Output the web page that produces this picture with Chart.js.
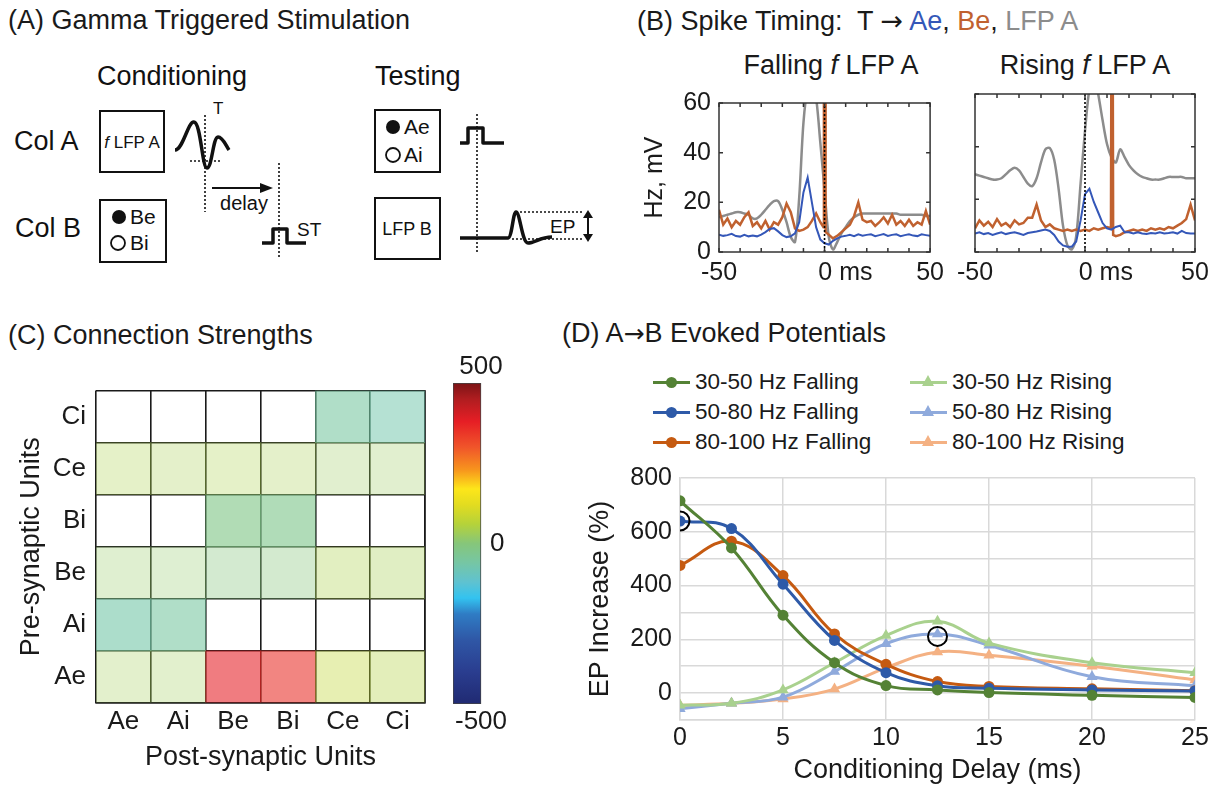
<!DOCTYPE html>
<html>
<head>
<meta charset="utf-8">
<script src="https://cdn.jsdelivr.net/npm/chart.js@4.4.1/dist/chart.umd.min.js"></script>
<style>
  body { margin: 0; background: #fff; }
  #fig { position: relative; width: 1221px; height: 785px; overflow: hidden;
         font-family: 'Liberation Sans', Arial, sans-serif; color: #1a1a1a; }
  .t { position: absolute; white-space: nowrap; font-size: 27px; line-height: 1; }
  .mid { transform: translateX(-50%); }
  .arr { font-family: 'DejaVu Sans', sans-serif; }
  canvas { position: absolute; }
  #dLegend { position: absolute; left: 653px; top: 367px; display: grid; grid-auto-flow: column;
             grid-template-rows: repeat(3, 30px); grid-template-columns: 257px 300px; }
  .li { display: flex; align-items: center; font-size: 22.5px; white-space: nowrap; }
  .key { position: relative; width: 37px; height: 30px; margin-right: 5px; }
  .key .ln { position: absolute; left: 0; right: 0; top: 13.5px; height: 3px; }
  .key .dot { position: absolute; left: 13px; top: 9.5px; width: 11px; height: 11px; border-radius: 50%; }
  .key .tri { position: absolute; left: 12px; top: 8px; width: 0; height: 0;
              border-left: 6.5px solid transparent; border-right: 6.5px solid transparent; border-bottom: 11px solid; }
</style>
</head>
<body>
<div id="fig">
  <!-- (A) schematic -->
  <div class="t" style="left:8px;top:7px">(A) Gamma Triggered Stimulation</div>
  <svg width="630" height="300" style="position:absolute;left:0;top:0" font-family="'Liberation Sans', Arial, sans-serif" fill="#111">
    <text x="97" y="85" font-size="27">Conditioning</text>
    <text x="375" y="85" font-size="27">Testing</text>
    <text x="14" y="150" font-size="27">Col A</text>
    <text x="15" y="237" font-size="27">Col B</text>
    <g fill="none" stroke="#111" stroke-width="2">
      <rect x="100" y="111" width="64" height="61"/>
      <rect x="100" y="200" width="66" height="62"/>
      <rect x="375" y="110" width="65" height="62"/>
      <rect x="375" y="198" width="65" height="61"/>
    </g>
    <text x="132" y="148" font-size="17" text-anchor="middle"><tspan font-style="italic">f</tspan> LFP A</text>
    <g fill="none" stroke="#111" stroke-width="3.5" stroke-linejoin="round">
      <path d="M175,150 C183,150 188,121 194,122 C201,123 202,168 207,168 C212,168 213,137 218,137 C223,137 226,146 229,150"/>
      <path d="M262,243 H273 V229 H287 V243 H306"/>
      <path d="M460,143 H468 V128 H483 V143 H504"/>
      <path d="M460,238 H508 C512,238 513,212 516,212 C520,212 522,243 528,243 C535,243 540,237 552,237"/>
    </g>
    <g fill="none" stroke="#111" stroke-width="1.6" stroke-dasharray="2,2">
      <path d="M205,115 V212"/>
      <path d="M190,161 H221"/>
      <path d="M279,163 V258"/>
      <path d="M477,114 V253"/>
      <path d="M516,212 H582"/>
      <path d="M512,239 H582"/>
    </g>
    <text x="213" y="114" font-size="17">T</text>
    <path d="M212,188 H262" stroke="#111" stroke-width="2"/>
    <polygon points="273,188 260,183 260,193"/>
    <text x="244" y="210" font-size="20" text-anchor="middle">delay</text>
    <text x="297" y="236" font-size="19">ST</text>
    <circle cx="119" cy="217" r="7"/>
    <circle cx="118" cy="243" r="7" fill="none" stroke="#111" stroke-width="1.8"/>
    <text x="130" y="224" font-size="21">Be</text>
    <text x="130" y="250" font-size="21">Bi</text>
    <circle cx="393" cy="127" r="7"/>
    <circle cx="393" cy="155" r="7" fill="none" stroke="#111" stroke-width="1.8"/>
    <text x="404" y="134" font-size="21">Ae</text>
    <text x="404" y="162" font-size="21">Ai</text>
    <text x="407" y="235" font-size="18" text-anchor="middle">LFP B</text>
    <text x="550" y="233" font-size="19">EP</text>
    <path d="M588,216 V236" stroke="#111" stroke-width="2"/>
    <polygon points="588,210 583,218 593,218"/>
    <polygon points="588,242 583,234 593,234"/>
  </svg>

  <!-- (B) -->
  <div class="t" style="left:637px;top:7px">(B) Spike Timing:&nbsp; T <span class="arr">→</span> <span style="color:#3457b8">Ae</span>, <span style="color:#c0612f">Be</span>, <span style="color:#8c8c8c">LFP A</span></div>
  <div class="t mid" style="left:831px;top:52px">Falling <i>f</i> LFP A</div>
  <div class="t mid" style="left:1085px;top:52px">Rising <i>f</i> LFP A</div>
  <canvas id="bFall" width="310" height="210" style="left:640px;top:80px"></canvas>
  <canvas id="bRise" width="271" height="210" style="left:950px;top:80px"></canvas>

  <!-- (C) -->
  <div class="t" style="left:8px;top:322px">(C) Connection Strengths</div>
  <canvas id="matrix" width="420" height="420" style="left:15px;top:365px"></canvas>
  <canvas id="cbar" width="75" height="400" style="left:440px;top:345px"></canvas>

  <!-- (D) -->
  <div class="t" style="left:562px;top:320px">(D) A<span class="arr" style="font-size:25px">→</span>B Evoked Potentials</div>
  <div id="dLegend"></div>
  <canvas id="dChart" width="637" height="330" style="left:584px;top:455px"></canvas>
</div>

<script>
// ---- (B) spike timing data, sampled every 2 ms ----
const bTime = [-50,-48,-46,-44,-42,-40,-38,-36,-34,-32,-30,-28,-26,-24,-22,-20,-18,-16,-14,-12,
  -10,-8,-6,-4,-2,0,2,4,6,8,10,12,14,16,18,20,22,24,26,28,30,32,34,36,38,40,42,44,46,48,50];

const lfpFalling = [14,14.5,15,15.5,16,16,15.5,15,13.5,13.5, 15,17,19,20.5,20.5,17,12,6,4,22,
  52,66,68,62,44,25,6,1,4,7.5, 10,12.5,14,15,15.5,15.5,15.5,15.5,15.5,15.5,
  15.5,15.5,15.5,15,15,15,15,15,15,14.5, 14.5];
const aeFalling = [7,6.5,6.8,7.3,6.4,6.2,6.9,6.3,6.6,6.3, 7,8,9.3,9.6,8.3,6.8,6,6.3,7.5,12,
  24,30,20,10,5,3.5,3,4.5,5.5,6.2, 6.5,6.9,6.4,7.1,6.6,6.9,7.1,6.4,6.8,7.2,
  6.5,6.9,7.1,6.4,6.8,7.1,6.6,6.4,7.1,6.8, 6.5];
const beFallingT = [-50,-48,-46,-44,-42,-40,-38,-36,-34,-32,-30,-28,-26,-24,-22,-20,-18,-16,-14,-12,
  -10,-8,-6,-4,-2, -0.5,-0.3,0.3,0.5, 2,4,6,8,10,12,14,16,18,20,22,24,26,28,30,32,34,36,38,40,42,44,46,48,50];
const beFalling = [17,11,13.5,10,12.5,11,14,16,10.5,12, 9.5,12.5,9,12,11,14,19.5,16,9.5,8.5,
  9,10,12.5,15.5,12, 10,80,80,8,
  7,5.5,6.5,8,9.5,11,14.5,20,13,12, 12.5,10.5,12,14,11.5,15,11,12.5,10.5,13, 10.5,12,11,16.5,11];

const lfpRising = [29.5,29,28.5,28,27.5,27.5,28,29.5,31,32, 31,28.5,26,25,28,34,39,39.5,35,24,
  10,2.5,1,6,26,46,62,68,60,50, 41,36,34,39,36,33,31,29.5,28.5,28,
  27.5,27.5,27.5,28,28.5,28.5,28.5,28.5,28,28, 28];
const aeRising = [7,7.5,6.8,7.2,6.5,7,7.5,6.8,7.2,7.5, 7,6.5,7.2,7.5,7.8,8.2,8.5,8,6.5,4,
  2.5,2,2,4,12,22,24,19,15,11, 9,8.5,9.5,10,7.5,7.5,7,7.5,7,6.8,
  7.2,7,7.5,7,7.2,7.5,7,8,7.2,7, 7];
const beRisingT = [-50,-48,-46,-44,-42,-40,-38,-36,-34,-32,-30,-28,-26,-24,-22,-20,-18,-16,-14,-12,
  -10,-8,-6,-4,-2,0,2,4,6,8,10, 11.8,12,12.6,12.8,
  14,16,18,20,22,24,26,28,30,32,34,36,38,40,42,44,46,48,50];
const beRising = [9,12,10,11.5,9.5,12.5,10,11,9.5,12, 10.5,11,13,13,18,12,9.5,10.5,9,8.5,
  8,8.5,8,8.5,8,8.5,8,9,8.5,9,9.5, 9,80,80,6.5,
  6,6.5,7.5,8,8.5,8,8.5,8,9,8.5,9,8.5,9.5,9,10,11,12.5,18,12];

const triggerT = [0, 0];
const triggerY = [0, 60];
const bXTicks = [-50, 0, 50];
const bXTickLabels = ['-50', '0 ms', '50'];
const bYTicks = [0, 20, 40, 60];
const bTickMarksX = [-50,-40,-30,-20,-10,0,10,20,30,40,50];

// ---- (C) connection strengths: rows = pre-synaptic (bottom to top), cols = post-synaptic ----
const units = ['Ae', 'Ai', 'Be', 'Bi', 'Ce', 'Ci'];
const meanWeight = [
  [35, 30, 380, 360, 75, 55],          // Ae
  [-65, -55, null, null, null, null],  // Ai
  [20, 15, -5, 0, 45, 40],             // Be
  [null, null, -20, -25, null, null],  // Bi
  [45, 40, 45, 40, 25, 25],            // Ce
  [null, null, null, null, -55, -70]   // Ci
];
const dotDensity = [
  [0.3, 0.3, 0.58, 0.58, 0.38, 0.36],
  [0.6, 0.58, 0, 0, 0, 0],
  [0.3, 0.3, 0.36, 0.36, 0.34, 0.34],
  [0, 0, 0.62, 0.62, 0, 0],
  [0.3, 0.3, 0.3, 0.3, 0.3, 0.3],
  [0, 0, 0, 0, 0.58, 0.52]
];
const cbValues = [-500,-400,-300,-220,-170,-120,-60,0,60,120,170,230,300,380,450,500];
const cbColors = ['#202a72','#2a3d8f','#2f57a6','#2f7cc4','#33c3f0','#5fc2d0','#76c6a4','#86c67a',
  '#b5d23a','#e2dc20','#fde61a','#f7941d','#f0552a','#e61e25','#b01d20','#7b1416'];
const cbTickLabels = ['-500', '0', '500'];

// ---- (D) evoked potentials ----
const dDelay = [0, 2.5, 5, 7.5, 10, 12.5, 15, 20, 25];
const fall3050 = [715, 540, 290, 113, 28, 12, 2, -8, -16];
const fall5080 = [640, 612, 405, 196, 76, 27, 18, 12, 8];
const fall80100 = [475, 565, 437, 220, 107, 43, 25, 16, 9];
const rise3050 = [-45, -38, 12, 113, 214, 267, 186, 113, 76];
const rise5080 = [-58, -38, -15, 80, 184, 220, 178, 61, 27];
const rise80100 = [-45, -38, -22, 15, 94, 153, 141, 100, 49];
const highlightX = [0, 12.5];
const highlightY = [640, 211];
const dXTicks = [0, 5, 10, 15, 20, 25];
const dYLabels = [0, 200, 400, 600, 800];

Chart.defaults.font.family = "'Liberation Sans', Arial, sans-serif";
Chart.defaults.font.size = 25;
Chart.defaults.color = '#1a1a1a';
Chart.defaults.animation = false;
Chart.defaults.responsive = false;
Chart.defaults.plugins.legend.display = false;
Chart.defaults.plugins.tooltip.enabled = false;

const pairs = (xs, ys) => xs.map((x, i) => ({ x: x, y: ys[i] }));
const fixW = w => s => { s.width = w; };
const fixH = h => s => { s.height = h; };

// box around the plot with small inward ticks (matlab look)
const framePlugin = {
  id: 'frame',
  afterDatasetsDraw(chart, args, o) {
    const { ctx, chartArea: a, scales: { x, y } } = chart;
    ctx.save();
    ctx.strokeStyle = o.color;
    ctx.lineWidth = o.width;
    ctx.strokeRect(a.left, a.top, a.right - a.left, a.bottom - a.top);
    ctx.beginPath();
    o.xTicks.forEach(v => {
      const p = x.getPixelForValue(v);
      ctx.moveTo(p, a.bottom); ctx.lineTo(p, a.bottom - o.len);
      ctx.moveTo(p, a.top); ctx.lineTo(p, a.top + o.len);
    });
    o.yTicks.forEach(v => {
      const p = y.getPixelForValue(v);
      ctx.moveTo(a.left, p); ctx.lineTo(a.left + o.len, p);
      ctx.moveTo(a.right, p); ctx.lineTo(a.right - o.len, p);
    });
    ctx.stroke();
    ctx.restore();
  }
};

function spikeChart(id, lfp, ae, beT, be, showY) {
  return new Chart(document.getElementById(id), {
    type: 'line',
    data: {
      datasets: [
        { data: pairs(triggerT, triggerY), borderColor: '#000', borderWidth: 1.6, borderDash: [2, 2], pointRadius: 0 },
        { data: pairs(bTime, ae), borderColor: '#3457b8', borderWidth: 2, pointRadius: 0 },
        { data: pairs(beT, be), borderColor: '#c0612f', borderWidth: 2.5, pointRadius: 0 },
        { data: pairs(bTime, lfp), borderColor: '#8c8c8c', borderWidth: 2.5, pointRadius: 0, tension: 0.3 }
      ]
    },
    options: {
      layout: { padding: showY ? { top: 14, right: 7 } : { top: 14, left: 25, right: 26 } },
      scales: {
        x: {
          type: 'linear', min: -50, max: 50,
          grid: { display: false, drawTicks: false }, border: { display: false },
          afterBuildTicks: s => { s.ticks = bXTicks.map(v => ({ value: v })); },
          ticks: { padding: 6, maxRotation: 0, autoSkip: false,
                   callback: (v, i) => i === 1 ? '      ' + bXTickLabels[i] : bXTickLabels[i] },
          afterFit: fixH(38)
        },
        y: {
          display: showY, min: 0, max: 60,
          grid: { display: false, drawTicks: false }, border: { display: false },
          afterBuildTicks: s => { s.ticks = bYTicks.map(v => ({ value: v })); },
          ticks: { padding: 8, autoSkip: false },
          title: { display: true, text: 'Hz, mV', padding: 0 },
          afterFit: fixW(showY ? 79 : 0)
        }
      },
      plugins: { frame: { color: '#333', width: 1.5, len: 4, xTicks: bTickMarksX, yTicks: bYTicks } }
    },
    plugins: [framePlugin]
  });
}
spikeChart('bFall', lfpFalling, aeFalling, beFallingT, beFalling, true);
spikeChart('bRise', lfpRising, aeRising, beRisingT, beRising, false);

// colour map for the weights
function hexRgb(h) {
  return [parseInt(h.slice(1, 3), 16), parseInt(h.slice(3, 5), 16), parseInt(h.slice(5, 7), 16)];
}
function cmap(v, alpha) {
  let i = 0;
  while (i < cbValues.length - 2 && v > cbValues[i + 1]) i++;
  const f = Math.min(1, Math.max(0, (v - cbValues[i]) / (cbValues[i + 1] - cbValues[i])));
  const a = hexRgb(cbColors[i]), b = hexRgb(cbColors[i + 1]);
  const c = a.map((q, k) => Math.round(q + (b[k] - q) * f));
  return 'rgba(' + c.join(',') + ',' + alpha + ')';
}

new Chart(document.getElementById('matrix'), {
  type: 'bar',
  data: {
    labels: units,
    datasets: units.map((pre, r) => ({
      label: pre,
      data: meanWeight[r].map(w => w === null ? null : [r, r + 1]),
      backgroundColor: meanWeight[r].map((w, c) => w === null ? 'rgba(0,0,0,0)' : cmap(w, dotDensity[r][c])),
      borderWidth: 0, barPercentage: 1, categoryPercentage: 1, grouped: false
    }))
  },
  options: {
    layout: { padding: { top: 16, right: 10 } },
    scales: {
      x: {
        grid: { color: '#1a1a1a', lineWidth: 1.6, offset: true, drawTicks: false },
        border: { color: '#1a1a1a', width: 1.6 },
        ticks: { padding: 3, font: { size: 26 } },
        title: { display: true, text: 'Post-synaptic Units', font: { size: 27 }, padding: { top: 0, bottom: 11 } },
        afterFit: fixH(82)
      },
      y: {
        position: 'right', min: 0, max: 6,
        grid: { color: '#1a1a1a', lineWidth: 1.6, drawTicks: false },
        border: { color: '#1a1a1a', width: 1.6 },
        ticks: { display: false, stepSize: 1 },
        afterFit: fixW(0)
      },
      yLab: {
        type: 'category', position: 'left', labels: units.slice().reverse(), offset: true,
        grid: { display: false, drawTicks: false }, border: { display: false },
        ticks: { padding: 10, font: { size: 26 } },
        title: { display: true, text: 'Pre-synaptic Units', font: { size: 27 }, padding: 0 },
        afterFit: fixW(81)
      }
    }
  }
});

// label for the middle of the colour bar, placed at the y-scale position of its value
const cbZeroLabel = {
  id: 'cbZero',
  afterDraw(chart) {
    const { ctx, chartArea: a, scales: { y } } = chart;
    ctx.save();
    ctx.font = "26px 'Liberation Sans', Arial, sans-serif";
    ctx.fillStyle = '#1a1a1a';
    ctx.textAlign = 'left';
    ctx.textBaseline = 'middle';
    ctx.fillText(cbTickLabels[1], a.left + 37, y.getPixelForValue(Number(cbTickLabels[1])));
    ctx.restore();
  }
};

new Chart(document.getElementById('cbar'), {
  type: 'bar',
  data: {
    labels: ['', ''],
    datasets: [{
      data: [[cbValues[0], cbValues[cbValues.length - 1]], null],
      backgroundColor: c => {
        const ch = c.chart, ys = ch.scales.y;
        if (!ch.chartArea || !ys) return cbColors[7];
        const lo = cbValues[0], hi = cbValues[cbValues.length - 1];
        const g = ch.ctx.createLinearGradient(0, ys.getPixelForValue(lo), 0, ys.getPixelForValue(hi));
        cbValues.forEach((v, i) => g.addColorStop((v - lo) / (hi - lo), cbColors[i]));
        return g;
      },
      borderColor: '#444', borderWidth: 1, borderSkipped: false,
      barPercentage: 1, categoryPercentage: 1
    }]
  },
  options: {
    layout: { padding: { left: 13, right: 6 } },
    scales: {
      x: {
        grid: { display: false, drawTicks: false }, border: { display: false }, ticks: { display: false },
        title: { display: true, text: cbTickLabels[0], font: { size: 26 }, padding: { top: 0, bottom: 8 } },
        afterFit: fixH(41)
      },
      xTop: {
        type: 'category', position: 'top', labels: ['', ''],
        grid: { display: false, drawTicks: false }, border: { display: false }, ticks: { display: false },
        title: { display: true, text: cbTickLabels[2], font: { size: 26 }, padding: { top: 6, bottom: 0 } },
        afterFit: fixH(38)
      },
      y: {
        display: false, min: -500, max: 500
      }
    }
  },
  plugins: [cbZeroLabel]
});

// ---- (D) ----
const dNames = ['30-50 Hz Falling', '50-80 Hz Falling', '80-100 Hz Falling',
                '30-50 Hz Rising', '50-80 Hz Rising', '80-100 Hz Rising'];
const dValues = [fall3050, fall5080, fall80100, rise3050, rise5080, rise80100];
const dColors = ['#548235', '#2e5aa8', '#c55a11', '#a9d18e', '#8faadc', '#f4b183'];
const dMarkers = ['circle', 'circle', 'circle', 'triangle', 'triangle', 'triangle'];

const dSets = dNames.map((name, i) => ({
  label: name,
  data: pairs(dDelay, dValues[i]),
  borderColor: dColors[i], backgroundColor: dColors[i],
  borderWidth: 3, tension: 0.4,
  pointStyle: dMarkers[i], pointRadius: dMarkers[i] === 'circle' ? 5.5 : 6.5,
  pointBorderWidth: 0
}));
dSets.unshift({
  label: 'highlight',
  data: pairs(highlightX, highlightY),
  showLine: false, pointRadius: 9.5, pointBorderWidth: 2,
  pointBorderColor: '#000', pointBackgroundColor: 'rgba(0,0,0,0)'
});

new Chart(document.getElementById('dChart'), {
  type: 'line',
  data: { datasets: dSets },
  options: {
    layout: { padding: { top: 21, right: 26 } },
    scales: {
      x: {
        type: 'linear', min: 0, max: 25,
        afterBuildTicks: s => { s.ticks = dXTicks.map(v => ({ value: v })); },
        grid: { color: '#d9d9d9', lineWidth: 1.5, drawTicks: false },
        border: { color: '#d9d9d9', width: 1.5 },
        ticks: { padding: 4, autoSkip: false, font: { size: 25, lineHeight: 1.1 } },
        title: { display: true, text: 'Conditioning Delay (ms)', font: { size: 27, lineHeight: 1.1 }, padding: { top: 0, bottom: 0 } },
        afterFit: fixH(65)
      },
      y: {
        min: -100, max: 800,
        grid: { color: '#d9d9d9', lineWidth: 1.5, drawTicks: false },
        border: { color: '#d9d9d9', width: 1.5 },
        ticks: { stepSize: 100, padding: 8, autoSkip: false,
                 callback: v => dYLabels.includes(v) ? String(v) : '' },
        title: { display: true, text: 'EP Increase (%)', font: { size: 27 }, padding: 0 },
        afterFit: fixW(96)
      }
    }
  }
});

// legend for (D), two columns like the original
const legendBox = document.getElementById('dLegend');
dNames.forEach((name, i) => {
  const item = document.createElement('div');
  item.className = 'li';
  const mark = dMarkers[i] === 'circle'
    ? '<span class="dot" style="background:' + dColors[i] + '"></span>'
    : '<span class="tri" style="border-bottom-color:' + dColors[i] + '"></span>';
  item.innerHTML = '<span class="key"><span class="ln" style="background:' + dColors[i] + '"></span>' +
    mark + '</span>' + name;
  legendBox.appendChild(item);
});
</script>
</body>
</html>
